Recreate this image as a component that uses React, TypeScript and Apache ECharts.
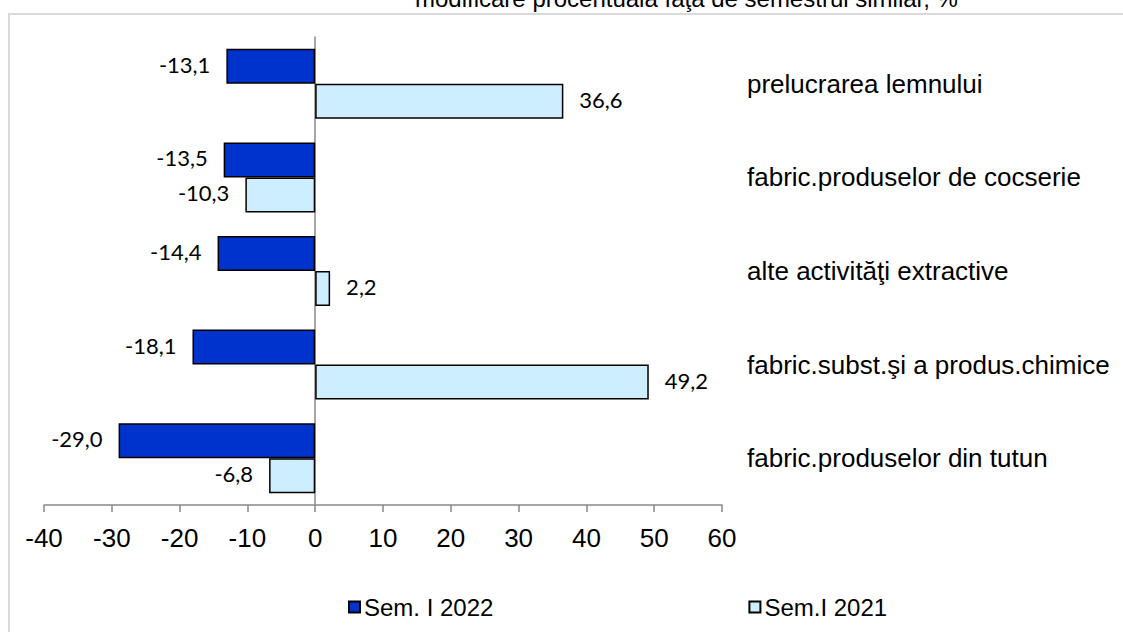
import React, { useEffect, useRef } from "react";
import * as echarts from "echarts";

const categories = [
  "prelucrarea lemnului",
  "fabric.produselor de cocserie",
  "alte activităţi extractive",
  "fabric.subst.şi a produs.chimice",
  "fabric.produselor din tutun",
];
const sem2022 = [-13.1, -13.5, -14.4, -18.1, -29.0];
const sem2021 = [36.6, -10.3, 2.2, 49.2, -6.8];
const seriesNames = ["Sem. I 2022", "Sem.I 2021"];
const titleText = "modificare procentuală faţă de semestrul similar, %";

const fmt = (v: number) => v.toFixed(1).replace(".", ",");
const toData = (arr: number[]) =>
  arr.map((v) => ({ value: v, label: { position: v < 0 ? "left" : "right" } }));

export default function App() {
  const ref = useRef<HTMLDivElement>(null);
  useEffect(() => {
    if (!ref.current) return;
    document.body.style.margin = "0";
    document.body.style.overflow = "hidden";
    document.documentElement.style.overflow = "hidden";
    const chart = echarts.init(ref.current, null, { renderer: "svg" });
    const labelStyle = {
      show: true,
      distance: 16,
      color: "#000",
      fontFamily: "Lato",
      fontSize: 22,
      offset: [0, -2],
      formatter: (p: any) => fmt(p.value),
    };
    chart.setOption({
      animation: false,
      backgroundColor: "#fff",
      graphic: [
        {
          type: "line",
          shape: { x1: 8, y1: 14, x2: 1123, y2: 14 },
          style: { stroke: "#d9d9d9", lineWidth: 2 },
          silent: true,
        },
        {
          type: "line",
          shape: { x1: 9, y1: 13, x2: 9, y2: 632 },
          style: { stroke: "#d9d9d9", lineWidth: 2 },
          silent: true,
        },
        {
          type: "text",
          x: 415,
          y: -2,
          style: {
            text: titleText,
            fill: "#000",
            font: "24px 'Liberation Sans', Arial, sans-serif",
            textAlign: "left",
            textVerticalAlign: "middle",
          },
        },
      ],
      grid: { left: 44, right: 401, top: 37, bottom: 127, containLabel: false },
      legend: {
        data: seriesNames,
        left: 343,
        top: 590,
        icon: "rect",
        itemWidth: 11,
        itemHeight: 11,
        itemGap: 255,
        textStyle: { fontSize: 24, fontFamily: "Liberation Sans", color: "#000", padding: [0, 0, 0, -1] },
      },
      xAxis: {
        type: "value",
        min: -40,
        max: 60,
        interval: 10,
        splitLine: { show: false },
        axisLine: { show: true, lineStyle: { color: "#898989", width: 1.5 } },
        axisTick: { show: true, length: 7, lineStyle: { color: "#898989", width: 1.5 } },
        axisLabel: {
          margin: 20,
          fontSize: 26,
          fontFamily: "Liberation Sans",
          color: "#000",
        },
      },
      yAxis: [
        {
          type: "category",
          data: categories,
          inverse: true,
          axisLine: { show: true, onZero: true, lineStyle: { color: "#898989", width: 1.5 } },
          axisTick: { show: false },
          axisLabel: { show: false },
        },
        {
          type: "category",
          data: categories,
          inverse: true,
          position: "right",
          axisLine: { show: false },
          axisTick: { show: false },
          axisLabel: {
            show: true,
            align: "left",
            margin: 25,
            fontSize: 26,
            fontFamily: "Liberation Sans",
            color: "#000",
          },
        },
      ],
      series: [
        {
          name: seriesNames[0],
          type: "bar",
          yAxisIndex: 0,
          data: toData(sem2022),
          barWidth: 35,
          barGap: "0%",
          itemStyle: { color: "#0033cc", borderColor: "#000", borderWidth: 1.5 },
          label: labelStyle,
        },
        {
          name: seriesNames[1],
          type: "bar",
          yAxisIndex: 0,
          data: toData(sem2021),
          barWidth: 35,
          barGap: "0%",
          itemStyle: { color: "#cceeff", borderColor: "#000", borderWidth: 1.5 },
          label: labelStyle,
        },
      ],
    });
    return () => chart.dispose();
  }, []);
  return (
    <div
      ref={ref}
      style={{ position: "absolute", left: 0, top: 0, width: 1123, height: 632 }}
    />
  );
}
